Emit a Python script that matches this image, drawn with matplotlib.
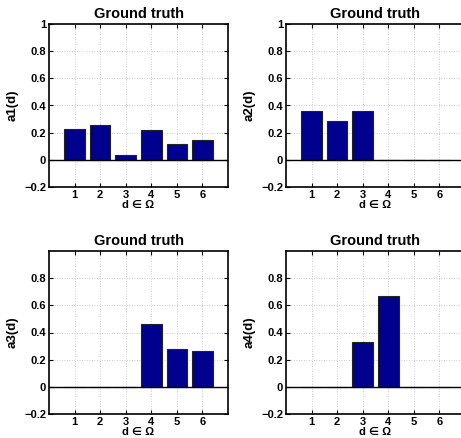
import matplotlib
matplotlib.use("Agg")
import matplotlib.pyplot as plt
import numpy as np

plt.rcParams["font.family"] = ["Liberation Sans", "DejaVu Sans"]
plt.rcParams["font.weight"] = "bold"

# positions d in Omega
d = [1, 2, 3, 4, 5, 6]

# ground truth values per panel
a1 = [0.228, 0.257, 0.037, 0.220, 0.118, 0.145]
a2 = [0.360, 0.287, 0.360, 0.0, 0.0, 0.0]
a3 = [0.0, 0.0, 0.0, 0.463, 0.279, 0.262]
a4 = [0.0, 0.0, 0.333, 0.667, 0.0, 0.0]

ylabels = ["a1(d)", "a2(d)", "a3(d)", "a4(d)"]
series = [a1, a2, a3, a4]
yticks_top = [-0.2, 0, 0.2, 0.4, 0.6, 0.8, 1]
yticks_bottom = [-0.2, 0, 0.2, 0.4, 0.6, 0.8]

W, H = 461, 438
fig = plt.figure(figsize=(W / 100, H / 100), dpi=100)

# axes boxes in pixels: left, top, width, height
boxes = [
    (49, 24, 179, 163),
    (286, 24, 179, 163),
    (49, 251, 179, 163),
    (286, 251, 179, 163),
]

bar_color = (0, 0, 0.5625)

for i, (vals, lab) in enumerate(zip(series, ylabels)):
    l, t, w, h = boxes[i]
    ax = fig.add_axes([l / W, 1 - (t + h) / H, w / W, h / H])
    ax.bar(d, vals, width=0.8, color=bar_color, edgecolor="#222222", linewidth=0.8, zorder=3)
    ax.axhline(0, color="black", linewidth=1.0, zorder=4)
    ax.set_xlim(0, 7)
    ax.set_ylim(-0.2, 1.0)
    ax.set_xticks(d)
    yt = yticks_top if i < 2 else yticks_bottom
    ax.set_yticks(yt)
    ax.set_yticklabels([f"{v:g}".replace("-", "\u2212") for v in yt])
    ax.grid(True, linestyle=(0, (1, 2)), color="#bbbbbb", linewidth=0.6, zorder=0)
    ax.tick_params(direction="in", length=3, width=0.8, labelsize=8, pad=2,
                   top=True, right=True)
    for lbl in ax.get_xticklabels() + ax.get_yticklabels():
        lbl.set_fontweight("bold")
    for s in ax.spines.values():
        s.set_linewidth(1.2)
    ax.set_title("Ground truth", fontsize=10.5, fontweight="bold", pad=4)
    ax.set_ylabel(lab, fontsize=9.5, fontweight="bold")
    ax.yaxis.set_label_coords(-0.17, 0.5)
    ax.set_xlabel("d \u2208 \u03a9", fontsize=8, fontweight="bold", labelpad=0)

fig.savefig("out.png", dpi=100)
